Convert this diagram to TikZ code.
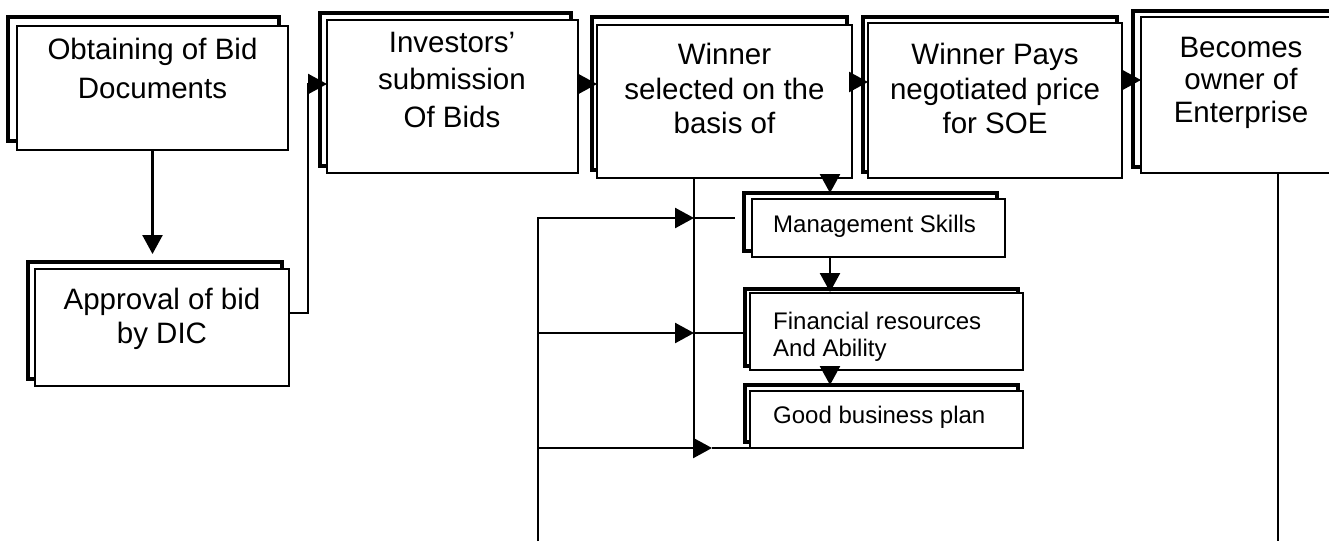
\documentclass[tikz,border=0pt]{standalone}
\usepackage{fontspec}
\setmainfont{Liberation Sans}
\usetikzlibrary{arrows.meta}

\tikzset{
  shadowbox/.style={draw, line width=3.4pt, inner sep=0pt, outer sep=0pt, anchor=north west},
  frontbox/.style={draw, fill=white, line width=2.8pt, inner sep=0pt, outer sep=0pt, anchor=north west},
  bigtext/.style={font=\fontsize{29.5}{36}\selectfont, align=center, inner sep=0pt, anchor=north},
  smalltext/.style={font=\fontsize{24}{27}\selectfont, align=left, inner sep=0pt},
  conn/.style={line width=2.5pt},
  arr/.style={conn, -{Triangle[length=19pt,width=20pt]}},
}

% #1 name, #2 left, #3 top, #4 width, #5 height, #6/#7 shadow offset (left/up)
\newcommand{\stackedbox}[7]{%
  \node[shadowbox, minimum width=#4pt, minimum height=#5pt] (#1s) at (#2-#6,#3-#7) {};
  \node[frontbox, minimum width=#4pt, minimum height=#5pt] (#1) at (#2,#3) {};
}

\begin{document}
\begin{tikzpicture}[x=1pt,y=-1pt]
  \useasboundingbox (0,0) rectangle (1329,541);
  \clip (0,0) rectangle (1329,541);

  % main row of stages
  \stackedbox{b1}{17}{26}{271}{124}{9}{9}
  \stackedbox{b2}{327}{20}{251}{153}{7}{7}
  \stackedbox{b3}{597}{25}{255}{153}{5}{8}
  \stackedbox{b4}{868}{23}{254}{155}{5}{6}
  \stackedbox{b5}{1141}{17}{200}{156}{8}{6}
  \stackedbox{b6}{35}{269}{254}{117}{7}{7}

  % selection criteria
  \stackedbox{ms}{752}{199}{253}{58}{8}{6}
  \stackedbox{fr}{750}{293}{273}{77}{5}{4}
  \stackedbox{gb}{750}{391}{273}{57}{5}{6}

  % labels
  \node[bigtext, font=\fontsize{29.5}{39}\selectfont] (t1) at (152.5,38) {Obtaining of Bid\\Documents};
  \node[bigtext, font=\fontsize{29.5}{37.5}\selectfont] (t2) at (452,32) {Investors’\\submission\\Of Bids};
  \node[bigtext, font=\fontsize{29.5}{34.5}\selectfont] (t3) at (724.5,43) {Winner\\selected on the\\basis of};
  \node[bigtext, font=\fontsize{29.5}{34.5}\selectfont] (t4) at (995,43) {Winner Pays\\negotiated price\\for SOE};
  \node[bigtext, font=\fontsize{29.5}{32.5}\selectfont] (t5) at (1241,37) {Becomes\\owner of\\Enterprise};
  \node[bigtext, font=\fontsize{29.5}{34}\selectfont] (t6) at (162,288) {Approval of bid\\by DIC};

  \node[smalltext, anchor=base west] (tms) at (773,232) {Management Skills};
  \node[smalltext, anchor=north west] (tfr) at (773,312) {Financial resources\\And Ability};
  \node[smalltext, anchor=base west] (tgb) at (773,423) {Good business plan};

  % helper coordinates for connector columns
  \coordinate (xm) at (830,0);
  \coordinate (xv) at (694,0);
  \coordinate (xl) at (538,541);
  \coordinate (xr) at (1278,541);
  \coordinate (yb6) at (0,313);
  \coordinate (yrow) at (0,84);
  \coordinate (ytop) at (0,218);
  \coordinate (ymid) at (0,333);
  \coordinate (xgb) at (712,0);

  % flow along the top row
  \draw[arr] (b1.south) -- ([yshift=8pt]b1.south |- b6s.north);
  \draw[arr] (b6.east |- yb6) -- ++(19,0) |- (b2.west |- yrow);
  \draw[arr] (b2.east |- yrow) -- (b3.west |- yrow);
  \draw[arr] (b3.east |- 0,82) -- (b4.west |- 0,82);
  \draw[arr] (b4.east |- 0,80) -- (b5.west |- 0,80);

  % criteria chain
  \draw[arr] (b3.south -| xm) -- (mss.north -| xm);
  \draw[arr] (ms.south -| xm) -- ([yshift=1pt]fr.north -| xm);
  \draw[arr] (fr.south -| xm) -- (gbs.north -| xm);

  % vertical from the selection stage
  \draw[conn] (b3.south -| xv) -- (xv |- gb.south);

  % feedback loop on the left
  \draw[arr] (xl) |- (xv |- ytop);
  \draw[conn] (xv |- ytop) -- ([xshift=-9pt]mss.west |- ytop);
  \draw[arr] (xl |- ymid) -- (xv |- ymid);
  \draw[conn] (xv |- ymid) -- (frs.west |- ymid);
  \draw[arr] (xl |- gb.south) -- (xgb |- gb.south);
  \draw[conn] (xgb |- gb.south) -- (gb.south west);

  % line down from the final stage
  \draw[conn] (b5.south -| xr) -- (xr);
\end{tikzpicture}
\end{document}
